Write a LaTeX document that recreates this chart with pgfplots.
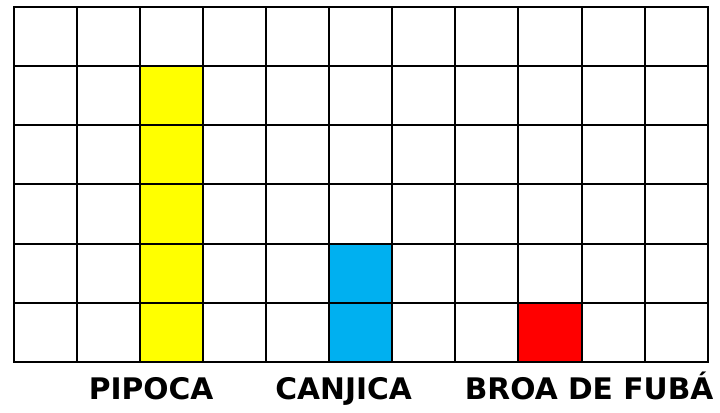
\documentclass[border=0pt]{standalone}
\usepackage{pgfplots}
\pgfplotsset{compat=1.18}
\usepackage{fontspec}
\setmainfont{DejaVu Sans}

\definecolor{milho}{RGB}{255,255,0}
\definecolor{canjica}{RGB}{0,176,240}
\definecolor{broa}{RGB}{255,0,0}

\begin{document}
\begin{tikzpicture}
\begin{axis}[
  scale only axis,
  width=350.5pt, height=179.5pt,
  xmin=0, xmax=11, ymin=0, ymax=6,
  xtick={0,...,11}, ytick={0,...,6},
  xticklabels={}, yticklabels={},
  major tick length=0pt,
  xmajorgrids, ymajorgrids,
  grid style={black, line width=1pt},
  axis line style={black, line width=1pt},
  axis on top,
  clip=false,
]
% quantidade de cada comida (uma casa = 1)
\addplot[ybar, bar width=1, fill=milho, draw=none] coordinates {(2.5,5)};
\addplot[ybar, bar width=1, fill=canjica, draw=none] coordinates {(5.5,2)};
\addplot[ybar, bar width=1, fill=broa, draw=none] coordinates {(8.5,1)};

\begin{scope}[every node/.style={anchor=base, font=\fontsize{15}{18}\selectfont\bfseries, text=black}]
\node at (axis cs:2.18,0) [yshift=-19pt] {PIPOCA};
\node at (axis cs:5.23,0) [yshift=-19pt] {CANJICA};
\node at (axis cs:9.12,0) [yshift=-19pt] {BROA DE FUBÁ};
\end{scope}
\end{axis}
\path[use as bounding box] (-5.5pt,-21pt) rectangle (354.5pt,182.5pt);
\end{tikzpicture}
\end{document}
